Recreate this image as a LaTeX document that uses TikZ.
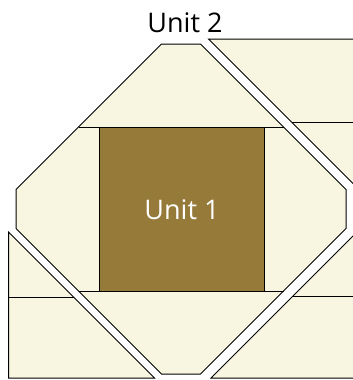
\documentclass[tikz,border=0pt]{standalone}
\usepackage{fontspec}
\setmainfont{Open Sans}
\definecolor{cream}{RGB}{248,245,224}
\definecolor{olive}{RGB}{149,122,58}
\tikzset{
  patch/.style={fill=cream,draw=black,line width=1pt,line join=miter},
  unitbox/.style={fill=olive,draw=black,line width=1pt},
  seam/.style={draw=black,line width=1pt},
  lbl/.style={font=\fontsize{27}{30}\selectfont,inner sep=0pt,anchor=base}
}
\begin{document}
\begin{tikzpicture}[x=1pt,y=-1pt]
\useasboundingbox (0,0) rectangle (353,380);
\begin{scope}
\clip (0,0) rectangle (353,380);
% outer pieces
\draw[patch] (208.5,39) -- (370,39) -- (370,200.5) -- cycle;
\draw[seam] (291.5,122) -- (370,122);
\draw[patch] (211,378) -- (370,378) -- (370,219) -- cycle;
\draw[seam] (293,296) -- (370,296);
\draw[patch] (8.5,232) -- (154.5,378) -- (8.5,378) -- cycle;
\draw[seam] (8.5,297) -- (73.5,297);
% octagon (unit 2)
\draw[patch] (161.5,44) -- (200.5,44) -- (346,189.5) -- (346,228.5) -- (200.5,374)
  -- (161.5,374) -- (16,228.5) -- (16,189.5) -- cycle;
\draw[seam] (78.5,127) -- (283.5,127);
\draw[seam] (78.5,291) -- (283.5,291);
\draw[unitbox] (99,127) rectangle (264,291);
\end{scope}
\node[lbl,text=white] (u1) at (182,219) {Unit 1};
\node[lbl,text=black] (u2) at (185,32) {Unit 2};
\end{tikzpicture}
\end{document}
